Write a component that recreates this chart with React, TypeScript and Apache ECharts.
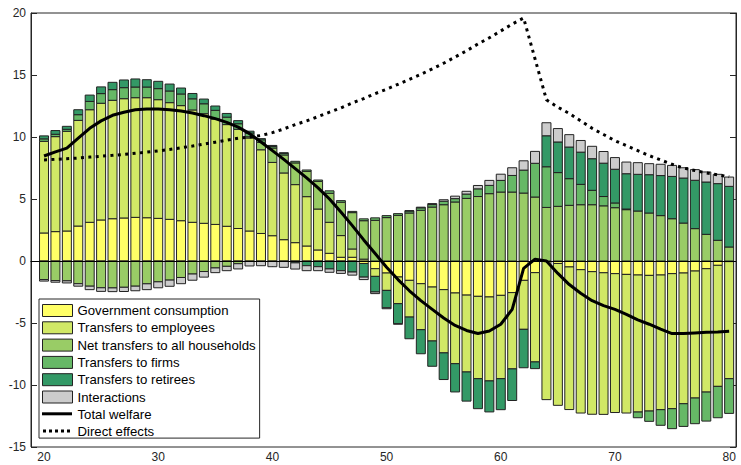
import React, { useEffect, useRef } from "react";
import * as echarts from "echarts";

const ages: number[] = [];
for (let a = 20; a <= 80; a++) ages.push(a);

const govConsumption = [
  2.26, 2.37, 2.42, 2.82, 3.12, 3.31, 3.41, 3.47, 3.52, 3.49,
  3.44, 3.36, 3.25, 3.12, 3.04, 2.95, 2.8, 2.62, 2.42, 2.22,
  2.04, 1.72, 1.48, 1.21, 0.89, 0.62, 0.3, 0.3, -0.2, -0.62,
  -0.97, -1.29, -1.56, -1.83, -2.1, -2.31, -2.58, -2.75, -2.85, -2.9,
  -2.77, -2.55, -1.56, -0.94, 0, -0.2, -0.48, -0.7, -0.86, -0.95,
  -1.02, -1.08, -1.13, -1.16, -1.13, -1.02, -0.97, -0.81, -0.62, -0.35,
  -0.05,
];
const transfersEmployees = [
  7.39, 7.66, 8.04, 8.52, 9.08, 9.41, 9.55, 9.62, 9.65, 9.68,
  9.57, 9.41, 9.28, 9.06, 8.84, 8.5, 8.2, 8.0, 7.5, 6.75,
  5.91, 5.38, 4.68, 3.98, 3.3, 2.5, 1.75, 0.67, 0.15, -0.62,
  -1.4, -2.15, -2.96, -3.71, -4.35, -5.1, -5.7, -6.2, -6.64, -6.77,
  -6.72, -6.15, -3.95, -7.2, -11.18, -11.44, -11.5, -11.56, -11.5, -11.42,
  -11.2, -11.18, -11.05, -10.94, -10.86, -10.89, -10.54, -10.24, -9.95, -9.76,
  -9.44,
];
const netTransfersHouseholds = [
  -1.5, -1.58, -1.6, -1.83, -2.03, -2.16, -2.17, -2.12, -2.03, -1.84,
  -1.68, -1.54, -1.33, -1.05, -0.85, -0.56, -0.43, -0.22, 0.1, 0.6,
  1.16, 1.45, 1.75, 2.04, 2.23, 2.34, 2.69, 2.93, 3.1, 3.28,
  3.5, 3.68, 3.87, 4.09, 4.35, 4.54, 4.76, 5.05, 5.2, 5.43,
  5.56, 5.56, 5.48, 5.16, 4.32, 4.41, 4.49, 4.54, 4.54, 4.45,
  4.3, 4.14, 4.03, 3.87, 3.66, 3.41, 3.06, 2.61, 2.15, 1.67,
  1.13,
];
const transfersFirms = [
  0.2, 0.19, 0.16, 0.46, 0.67, 0.78, 0.86, 0.89, 0.86, 0.86,
  0.89, 0.94, 0.94, 0.9, 0.8, 0.7, 0.6, 0.45, 0.3, 0.2,
  0.13, 0.13, 0.13, 0.11, 0.11, 0.2, 0.13, 0.1, 0.15, 0.2,
  0.16, 0.14, 0.16, 0.2, 0.2, 0.28, 0.27, 0.35, 0.62, 0.67,
  0.94, 1.34, 1.85, 2.72, 3.28, 2.72, 2.15, 1.64, 1.16, 0.75,
  0.38, 0.05, -0.46, -0.83, -1.26, -1.61, -1.83, -2.07, -2.34, -2.53,
  -2.8,
];
const transfersRetirees = [
  0.24, 0.3, 0.24, 0.4, 0.51, 0.54, 0.59, 0.62, 0.65, 0.59,
  0.59, 0.56, 0.48, 0.43, 0.38, 0.35, 0.3, 0.25, 0.15, 0.1,
  0.08, 0.05, -0.15, -0.38, -0.46, -0.64, -0.78, -0.89, -1.1, -1.26,
  -1.4, -1.61, -1.75, -1.94, -2.04, -2.15, -2.28, -2.35, -2.42, -2.5,
  -2.5, -2.55, -3.1, -0.54, 2.5, 2.47, 2.55, 2.6, 2.55, 2.69,
  2.72, 2.85, 2.96, 3.09, 3.23, 3.41, 3.63, 3.9, 4.22, 4.57,
  4.89,
];
const interactions = [
  -0.12, -0.13, -0.17, -0.2, -0.28, -0.29, -0.3, -0.34, -0.37, -0.47,
  -0.48, -0.5, -0.5, -0.5, -0.45, -0.38, -0.35, -0.42, -0.4, -0.38,
  -0.46, -0.51, -0.5, -0.4, -0.32, -0.27, -0.22, -0.25, -0.2, -0.13,
  -0.08, -0.05, 0.03, 0.05, 0.08, 0.12, 0.2, 0.22, 0.27, 0.4,
  0.5, 0.62, 0.75, 0.96, 1.05, 1.08, 1.0, 0.94, 1.0, 0.94,
  0.94, 0.94, 0.94, 0.89, 0.91, 0.89, 0.83, 0.86, 0.81, 0.75,
  0.75,
];
const totalWelfare = [
  8.47, 8.8, 9.1, 9.9, 10.7, 11.3, 11.75, 12.0, 12.2, 12.26,
  12.26, 12.2, 12.1, 11.94, 11.72, 11.48, 11.18, 10.8, 10.27, 9.6,
  8.9, 8.2, 7.45, 6.7, 5.9, 5.0, 3.95, 2.85, 1.7, 0.6,
  -0.5, -1.5, -2.4, -3.2, -3.9, -4.6, -5.2, -5.6, -5.85, -5.65,
  -5.1, -3.9, -0.6, 0.15, 0.0, -1.0, -1.9, -2.6, -3.2, -3.6,
  -3.9, -4.3, -4.75, -5.1, -5.5, -5.85, -5.85, -5.8, -5.75, -5.72,
  -5.67,
];
const directEffects = [
  8.15, 8.2, 8.25, 8.3, 8.38, 8.45, 8.52, 8.6, 8.68, 8.78,
  8.88, 9.0, 9.13, 9.27, 9.42, 9.58, 9.74, 9.9, 10.0, 10.12,
  10.35, 10.65, 11.0, 11.3, 11.65, 12.0, 12.35, 12.75, 13.1, 13.5,
  13.85, 14.25, 14.65, 15.05, 15.5, 15.95, 16.45, 16.95, 17.5, 18.0,
  18.55, 19.1, 19.6, 16.3, 13.0, 12.4, 11.9, 11.3, 10.7, 10.2,
  9.7, 9.3, 8.9, 8.5, 8.15, 7.8, 7.5, 7.3, 7.1, 6.95,
  6.8,
];
const xTicks = [20, 30, 40, 50, 60, 70, 80];

const seriesNames = [
  "Government consumption",
  "Transfers to employees",
  "Net transfers to all households",
  "Transfers to firms",
  "Transfers to retirees",
  "Interactions",
];
const seriesColors = ["#ffff66", "#d1e866", "#99cc66", "#66b866", "#339966", "#cccccc"];
const seriesValues = [
  govConsumption,
  transfersEmployees,
  netTransfersHouseholds,
  transfersFirms,
  transfersRetirees,
  interactions,
];

const FONT = "'Liberation Sans', Arial, Helvetica, sans-serif";
const BAR_W = 9;
const DOT = [3, 4.4];

export default function App() {
  const ref = useRef<HTMLDivElement>(null);
  useEffect(() => {
    if (!ref.current) return;
    const chart = echarts.init(ref.current, undefined, { renderer: "svg" });

    // same-sign stacking: build [age, base, top] rows per series
    const posAcc = ages.map(() => 0);
    const negAcc = ages.map(() => 0);
    const stacked = seriesValues.map((vals) =>
      ages.map((a, i) => {
        const v = vals[i];
        if (v >= 0) {
          const b = posAcc[i];
          posAcc[i] = b + v;
          return [a, b, b + v];
        }
        const b = negAcc[i];
        negAcc[i] = b + v;
        return [a, b, b + v];
      })
    );

    const barSeries = seriesNames.map((name, k) => ({
      name,
      type: "custom",
      data: stacked[k],
      encode: { x: 0, y: [1, 2] },
      itemStyle: { color: seriesColors[k], borderColor: "#222", borderWidth: 1 },
      z: 2,
      renderItem: (params: any, api: any) => {
        const x = api.value(0);
        const p0 = api.coord([x, api.value(1)]);
        const p1 = api.coord([x, api.value(2)]);
        const y0 = Math.min(p0[1], p1[1]);
        const h = Math.abs(p0[1] - p1[1]);
        return {
          type: "rect",
          shape: { x: p0[0] - BAR_W / 2, y: y0, width: BAR_W, height: h },
          style: { fill: seriesColors[k], stroke: "#222", lineWidth: 1 },
        };
      },
    }));

    const axisCommon = {
      axisLine: { show: true, lineStyle: { color: "#262626", width: 1 } },
      splitLine: { show: false },
    };
    const hiddenSymbol = { color: "rgba(0,0,0,0)", borderColor: "rgba(0,0,0,0)", borderWidth: 0 };
    const ROW0 = 310;
    const ROW_STEP = 17.3;
    chart.setOption({
      animation: false,
      grid: { left: 31, right: 5, top: 13, bottom: 18, show: true, borderColor: "#262626", borderWidth: 1, backgroundColor: "transparent" },
      legend: {
        orient: "vertical",
        left: 39,
        top: 299,
        backgroundColor: "#fff",
        borderColor: "#262626",
        borderWidth: 1,
        borderRadius: 0,
        padding: [5, 4, 0, 3],
        itemWidth: 30,
        itemHeight: 12,
        itemGap: 4.3,
        textStyle: { fontSize: 13.2, color: "#000", fontFamily: FONT, lineHeight: 12 },
        data: [
          ...seriesNames.map((n, k) => ({
            name: n,
            icon: "rect",
            itemStyle: { color: seriesColors[k], borderColor: "#222", borderWidth: 1 },
          })),
          { name: "Total welfare", icon: "circle", itemStyle: hiddenSymbol },
          { name: "Direct effects", icon: "circle", itemStyle: hiddenSymbol },
        ],
      },
      graphic: [
        {
          type: "line",
          z: 100,
          silent: true,
          shape: { x1: 42, y1: ROW0 + 6 * ROW_STEP, x2: 72, y2: ROW0 + 6 * ROW_STEP },
          style: { stroke: "#000", lineWidth: 3 },
        },
        {
          type: "line",
          z: 100,
          silent: true,
          shape: { x1: 43, y1: ROW0 + 7 * ROW_STEP, x2: 73, y2: ROW0 + 7 * ROW_STEP },
          style: { stroke: "#000", lineWidth: 3, lineDash: [3, 3] },
        },
      ],
      xAxis: [
        {
          type: "value",
          min: 18.86,
          max: 80.6,
          position: "bottom",
          ...axisCommon,
          axisTick: { show: true, inside: true, length: 6, customValues: xTicks, lineStyle: { color: "#262626" } },
          axisLabel: { show: true, customValues: xTicks, color: "#262626", fontSize: 12, fontFamily: FONT, margin: 4 },
        },
        {
          type: "value",
          min: 18.86,
          max: 80.6,
          position: "top",
          ...axisCommon,
          axisTick: { show: true, inside: true, length: 6, customValues: xTicks, lineStyle: { color: "#262626" } },
          axisLabel: { show: false },
        },
      ],
      yAxis: [
        {
          type: "value",
          min: -15,
          max: 20,
          interval: 5,
          position: "left",
          ...axisCommon,
          axisTick: { show: true, inside: true, length: 6, lineStyle: { color: "#262626" } },
          axisLabel: { color: "#262626", fontSize: 12, fontFamily: FONT, margin: 5 },
        },
        {
          type: "value",
          min: -15,
          max: 20,
          interval: 5,
          position: "right",
          ...axisCommon,
          axisTick: { show: true, inside: true, length: 6, lineStyle: { color: "#262626" } },
          axisLabel: { show: false },
        },
      ],
      series: [
        ...barSeries,
        {
          name: "Total welfare",
          type: "line",
          data: ages.map((a, i) => [a, totalWelfare[i]]),
          symbol: "none",
          color: "#000",
          lineStyle: { color: "#000", width: 3 },
          z: 5,
          markLine: {
            silent: true,
            symbol: "none",
            label: { show: false },
            lineStyle: { color: "#000", width: 1, type: "solid" },
            data: [{ yAxis: 0 }],
          },
        },
        {
          name: "Direct effects",
          type: "line",
          data: ages.map((a, i) => [a, directEffects[i]]),
          symbol: "none",
          color: "#000",
          lineStyle: { color: "#000", width: 3, type: DOT, cap: "butt" },
          z: 5,
        },
      ],
    });
    return () => chart.dispose();
  }, []);
  return (
    <div
      ref={ref}
      style={{ position: "fixed", left: 0, top: 0, width: 741, height: 465, background: "#fff" }}
    />
  );
}
